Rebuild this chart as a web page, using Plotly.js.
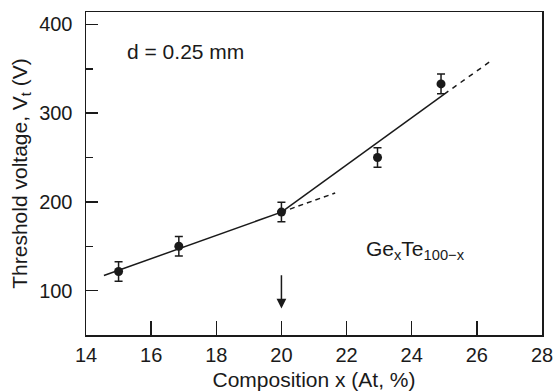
<!DOCTYPE html>
<html>
<head>
<meta charset="utf-8">
<script src="https://cdn.plot.ly/plotly-3.0.1.min.js"></script>
<style>html,body{margin:0;padding:0;background:#fff;}#chart{width:554px;height:392px;}</style>
</head>
<body>
<div id="chart"></div>
<script>
// Measured data (Ge_x Te_100-x, d = 0.25 mm)
const composition = [15, 16.85, 20, 22.95, 24.9];
const thresholdV = [121.5, 150, 188.5, 250, 333];
const errV = [11, 11, 11, 11, 11];

// Fit line 1 (solid then dashed extension)
const fit1SolidX = [14.55, 20];
const fit1SolidY = [117, 188.5];
const fit1DashX = [20, 21.65];
const fit1DashY = [188.5, 210];
// Fit line 2 (solid then dashed extension)
const fit2SolidX = [20, 25];
const fit2SolidY = [188.5, 321.5];
const fit2DashX = [25, 26.4];
const fit2DashY = [321.5, 358];

// Arrow marking x = 20
const arrowX = 20, arrowTail = 119, arrowHead = 80;

const xTicks = [14, 16, 18, 20, 22, 24, 26, 28];
const yTicks = [100, 200, 300, 400];

const ink = '#1a1a1a';
const fontFam = 'Liberation Sans, Arial, Helvetica, sans-serif';

const traces = [
  {x: fit1SolidX, y: fit1SolidY, mode: 'lines', line: {color: ink, width: 1.5}, hoverinfo: 'skip'},
  {x: fit1DashX, y: fit1DashY, mode: 'lines', line: {color: ink, width: 1.5, dash: '5px,4px'}, hoverinfo: 'skip'},
  {x: fit2SolidX, y: fit2SolidY, mode: 'lines', line: {color: ink, width: 1.5}, hoverinfo: 'skip'},
  {x: fit2DashX, y: fit2DashY, mode: 'lines', line: {color: ink, width: 1.5, dash: '5px,5px'}, hoverinfo: 'skip'},
  {x: composition, y: thresholdV, mode: 'markers',
   marker: {color: ink, size: 9},
   error_y: {type: 'data', array: errV, visible: true, color: ink, thickness: 1.5, width: 4}}
];

const layout = {
  width: 554, height: 392,
  margin: {l: 86, r: 12, t: 12, b: 57},
  paper_bgcolor: '#fff', plot_bgcolor: '#fff',
  showlegend: false,
  font: {family: fontFam, color: ink, size: 20},
  xaxis: {
    range: [14, 28], tickvals: xTicks, ticktext: xTicks.map(String),
    ticks: 'inside', ticklen: 14, tickwidth: 1.5, tickcolor: ink,
    showline: true, linewidth: 1.5, linecolor: ink, mirror: true,
    showgrid: false, zeroline: false,
    ticklabelstandoff: 1,
    tickfont: {size: 20, family: fontFam, color: ink},
    title: {text: 'Composition x (At, %)', font: {size: 21, family: fontFam, color: ink}, standoff: 8}
  },
  yaxis: {
    range: [50, 414], tickvals: yTicks, ticktext: yTicks.map(String),
    ticks: 'inside', ticklen: 12, tickwidth: 1.5, tickcolor: ink,
    minor: {dtick: 50, ticks: 'inside', ticklen: 7, tickwidth: 1.5, tickcolor: ink, showgrid: false},
    showline: true, linewidth: 1.5, linecolor: ink, mirror: true,
    showgrid: false, zeroline: false,
    ticklabelstandoff: 8,
    tickfont: {size: 20, family: fontFam, color: ink},
    title: {text: 'Threshold voltage, V<sub>t</sub> (V)', font: {size: 21, family: fontFam, color: ink}, standoff: 6}
  },
  annotations: [
    {x: 15.2, y: 369, xref: 'x', yref: 'y', text: 'd = 0.25 mm', showarrow: false,
     xanchor: 'left', yanchor: 'middle', font: {size: 21, family: fontFam, color: ink}},
    {x: 22.55, y: 146, xref: 'x', yref: 'y', text: 'Ge<sub>x</sub>Te<sub>100\u2212x</sub>', showarrow: false,
     xanchor: 'left', yanchor: 'middle', font: {size: 21, family: fontFam, color: ink}},
    {x: arrowX, y: arrowHead, ax: arrowX, ay: arrowTail, xref: 'x', yref: 'y', axref: 'x', ayref: 'y',
     text: '', showarrow: true, arrowhead: 2, arrowsize: 1.3, arrowwidth: 1.5, arrowcolor: ink, standoff: 0, startstandoff: 0}
  ]
};

Plotly.newPlot('chart', traces, layout, {staticPlot: true, displayModeBar: false});
</script>
</body>
</html>
